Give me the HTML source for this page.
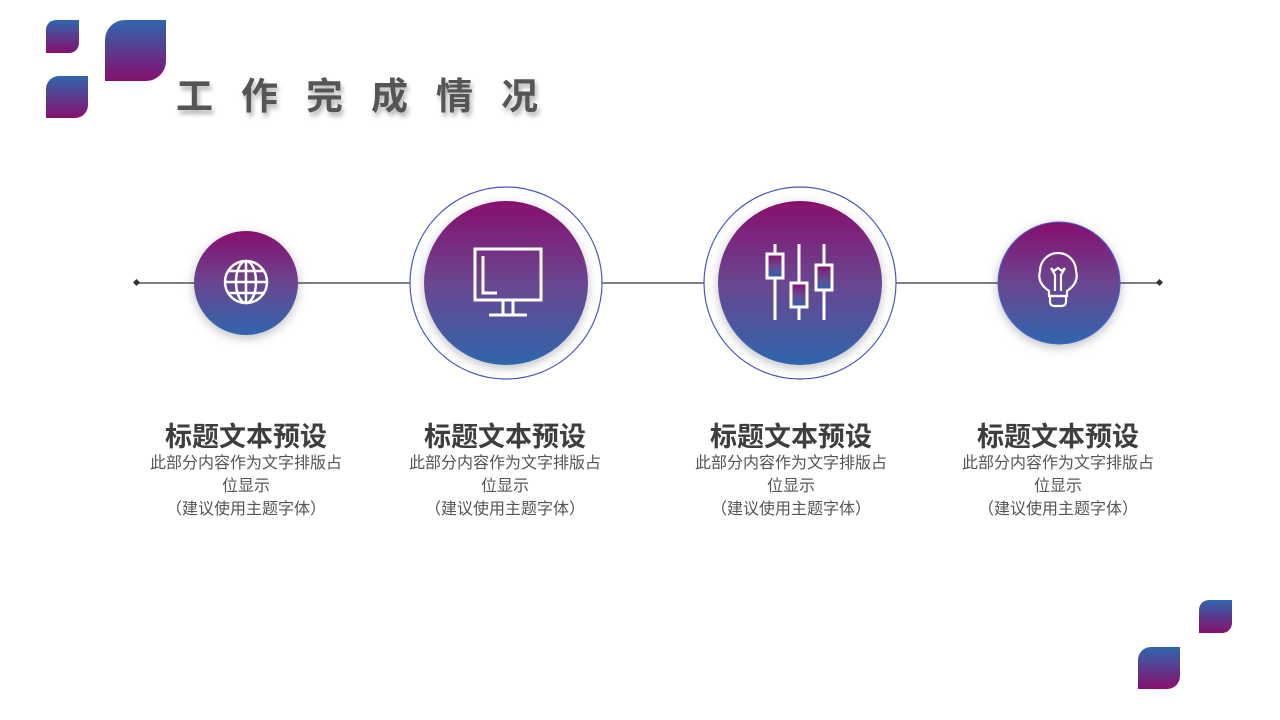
<!DOCTYPE html>
<html><head><meta charset="utf-8"><style>
body{margin:0;width:1280px;height:720px;background:#fff;position:relative;overflow:hidden;font-family:"Liberation Sans","Noto Sans CJK SC",sans-serif}
.sq{position:absolute;background:linear-gradient(#2f66ad,#870f6e);border-radius:0}
.t{position:absolute;width:260px;text-align:center;color:#555}
.t h3{margin:0;font-size:27px;font-weight:bold;color:#3e3e3e;line-height:30px}
.t p{margin:0;font-size:16px;line-height:23px}
</style></head><body>
<div class="sq" style="left:46px;top:20px;width:33px;height:33px;border-radius:10px 0 10px 0"></div>
<div class="sq" style="left:105px;top:20px;width:61px;height:61px;border-radius:20px 0 20px 0"></div>
<div class="sq" style="left:46px;top:76px;width:42px;height:42px;border-radius:13px 0 13px 0"></div>
<div class="sq" style="left:1199px;top:600px;width:33px;height:33px;border-radius:10px 0 10px 0"></div>
<div class="sq" style="left:1138px;top:647px;width:42px;height:42px;border-radius:13px 0 13px 0"></div>
<div style="position:absolute;left:176px;top:66px;font-size:37px;font-weight:bold;color:#555;letter-spacing:28px;text-shadow:2px 4px 5px rgba(0,0,0,.3)">工作完成情况</div>
<svg width="1280" height="720" style="position:absolute;left:0;top:0">
<defs>
<linearGradient id="g" x1="0" y1="0" x2="0" y2="1"><stop offset="0" stop-color="#870f6e"/><stop offset="0.5" stop-color="#6a4690"/><stop offset="1" stop-color="#2f66ad"/></linearGradient>
<filter id="s" x="-30%" y="-30%" width="160%" height="160%"><feDropShadow dx="0" dy="3" stdDeviation="5" flood-color="#000" flood-opacity=".25"/></filter>
</defs>
<line x1="137" y1="283" x2="1160" y2="283" stroke="#333" stroke-width="1.2"/>
<rect x="134" y="280" width="5" height="5" fill="#333" transform="rotate(45 136.5 282.5)"/>
<rect x="1157" y="280" width="5" height="5" fill="#333" transform="rotate(45 1159.5 282.5)"/>
<circle cx="246" cy="283" r="52" fill="url(#g)" filter="url(#s)"/>
<circle cx="506" cy="283" r="96" fill="#fff" stroke="#4a55c0" stroke-width="1.2"/>
<circle cx="506" cy="283" r="82" fill="url(#g)" filter="url(#s)"/>
<circle cx="800" cy="283" r="96" fill="#fff" stroke="#4a55c0" stroke-width="1.2"/>
<circle cx="800" cy="283" r="82" fill="url(#g)" filter="url(#s)"/>
<circle cx="1059" cy="283" r="61" fill="url(#g)" stroke="#4a5fd0" stroke-width="1" filter="url(#s)"/>
<g fill="none" stroke="#fff" stroke-width="2.5">
<circle cx="246" cy="282" r="21"/><ellipse cx="246" cy="282" rx="10" ry="21"/>
<line x1="246" y1="261" x2="246" y2="303"/><line x1="225" y1="282" x2="267" y2="282"/>
<line x1="228" y1="271" x2="264" y2="271"/><line x1="228" y1="293" x2="264" y2="293"/>
</g>
<g fill="none" stroke="#fff" stroke-width="3">
<rect x="475" y="249" width="66" height="51"/>
<polyline points="483,256 483,293 497,293"/>
<line x1="503" y1="301" x2="503" y2="314"/><line x1="513" y1="301" x2="513" y2="314"/>
<line x1="489" y1="315" x2="527" y2="315"/>
<line x1="775" y1="244" x2="775" y2="320"/><rect x="767" y="254" width="16" height="24" fill="url(#g)"/>
<line x1="799" y1="244" x2="799" y2="320"/><rect x="791" y="283" width="16" height="24" fill="url(#g)"/>
<line x1="824" y1="244" x2="824" y2="320"/><rect x="816" y="265" width="16" height="25" fill="url(#g)"/>
</g>
<g fill="none" stroke="#fff" stroke-width="2.2">
<path d="M1049 296 v-5 c-9 -6 -11 -13 -9 -20 a18 18 0 0 1 36 0 c2 7 0 14 -9 20 v5 z"/>
<path d="M1051 268 l4 7 v16 M1065 268 l-4 7 v16 M1051 268 l3 3 l4-3 l4 3 l3 -3"/>
<path d="M1050 296 h16 v6 a4 4 0 0 1 -4 4 h-8 a4 4 0 0 1 -4 -4 z"/>
</g>
</svg>
<div class="t" style="left:116px;top:422px"><h3>标题文本预设</h3><p>此部分内容作为文字排版占<br>位显示<br>（建议使用主题字体）</p></div>
<div class="t" style="left:375px;top:422px"><h3>标题文本预设</h3><p>此部分内容作为文字排版占<br>位显示<br>（建议使用主题字体）</p></div>
<div class="t" style="left:661px;top:422px"><h3>标题文本预设</h3><p>此部分内容作为文字排版占<br>位显示<br>（建议使用主题字体）</p></div>
<div class="t" style="left:928px;top:422px"><h3>标题文本预设</h3><p>此部分内容作为文字排版占<br>位显示<br>（建议使用主题字体）</p></div>
</body></html>
